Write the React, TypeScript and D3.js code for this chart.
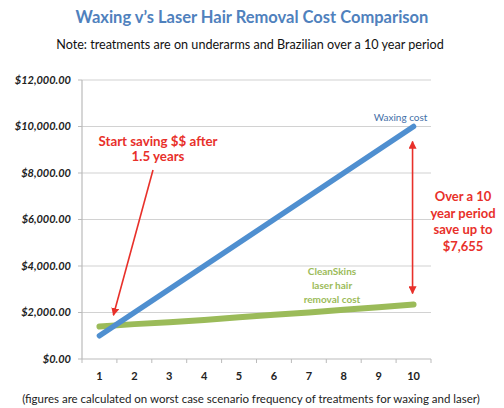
import * as d3 from "d3";

const years = [1, 2, 3, 4, 5, 6, 7, 8, 9, 10];
const waxingCost = [1000, 2000, 3000, 4000, 5000, 6000, 7000, 8000, 9000, 10000];
const laserCost = [1400, 1500, 1580, 1680, 1800, 1900, 2000, 2120, 2230, 2345];
const yTicks = [0, 2000, 4000, 6000, 8000, 10000, 12000];

const W = 504;
const H = 408;
const margin = { top: 80, right: 73, bottom: 49, left: 82 };
const font = "Lato, 'Open Sans', sans-serif";
const red = "#e8302a";

export default function App() {
  const x = d3
    .scaleBand<number>()
    .domain(years)
    .range([margin.left, W - margin.right])
    .padding(0);
  const y = d3.scaleLinear().domain([0, 12000]).range([H - margin.bottom, margin.top]);
  const cx = (d: number) => (x(d) ?? 0) + x.bandwidth() / 2;
  const fmt = d3.format("$,.2f");

  const line = d3
    .line<number>()
    .x((_, i) => cx(years[i]))
    .y((d) => y(d));

  const x0 = margin.left;
  const x1 = W - margin.right;
  const yBase = y(0);

  const boundaries = [...years.map((d) => x(d) ?? 0), x1];

  // arrow from callout to the crossing point
  const crossX = cx(1) + x.bandwidth() * 0.4;
  const crossY = y(1880);
  const startX = 153;
  const startY = 170;

  const arrowX = cx(10) - 1;

  return (
    <svg
      width={W}
      height={H}
      style={{ position: "absolute", left: 0, top: 0, background: "#fff" }}
      fontFamily={font}
    >
      <defs>
        <marker id="ah" viewBox="0 0 10 10" refX="9" refY="5" markerWidth="5" markerHeight="5" orient="auto-start-reverse">
          <path d="M0,0 L10,5 L0,10 z" fill={red} />
        </marker>
      </defs>

      <text x={252} y={23} textAnchor="middle" fontSize={16.5} fontWeight={700} fill="#4f81bd">
        Waxing v’s Laser Hair Removal Cost Comparison
      </text>
      <text x={250} y={49} textAnchor="middle" fontSize={12.6} fill="#111">
        Note: treatments are on underarms and Brazilian over a 10 year period
      </text>

      {/* grid */}
      {yTicks.map((t) => (
        <g key={t}>
          {t > 0 && <line x1={x0} x2={x1} y1={y(t)} y2={y(t)} stroke="#d2d2d2" strokeWidth={1.2} />}
          <line x1={x0 - 4} x2={x0} y1={y(t)} y2={y(t)} stroke="#bbb" strokeWidth={1} />
          <text
            x={x0 - 11}
            y={y(t)}
            dy="0.35em"
            textAnchor="end"
            fontSize={11}
            fontWeight={700}
            fontStyle="italic"
            fill="#222"
          >
            {fmt(t)}
          </text>
        </g>
      ))}
      <line x1={x0} x2={x0} y1={y(12000)} y2={yBase} stroke="#bbb" strokeWidth={1.2} />
      <line x1={x0} x2={x1} y1={yBase} y2={yBase} stroke="#bbb" strokeWidth={1.2} />
      {boundaries.map((b, i) => (
        <line key={i} x1={b} x2={b} y1={yBase} y2={yBase + 4} stroke="#bbb" strokeWidth={1} />
      ))}
      {years.map((d) => (
        <text key={d} x={cx(d)} y={yBase + 21} textAnchor="middle" fontSize={11} fontWeight={700} fill="#222">
          {d}
        </text>
      ))}

      {/* series */}
      <path d={line(laserCost) ?? ""} fill="none" stroke="#9bbb59" strokeWidth={6} strokeLinecap="round" />
      <path d={line(waxingCost) ?? ""} fill="none" stroke="#4f8fd0" strokeWidth={5.5} strokeLinecap="round" />

      <text x={cx(10) - 13} y={y(10000) - 6} textAnchor="middle" fontSize={10} fill="#4470a8">
        Waxing cost
      </text>
      <g fontSize={10} fontWeight={700} fill="#9bbb59" textAnchor="middle">
        <text x={332} y={275}>CleanSkins</text>
        <text x={332} y={289}>laser hair</text>
        <text x={332} y={303}>removal cost</text>
      </g>

      {/* annotations */}
      <g fontSize={13.3} fontWeight={700} fill={red} textAnchor="middle">
        <text x={158} y={146}>Start saving $$ after</text>
        <text x={158} y={161}>1.5 years</text>
      </g>
      <line x1={startX} y1={startY} x2={crossX} y2={crossY} stroke={red} strokeWidth={1.6} markerEnd="url(#ah)" />

      <line
        x1={arrowX}
        x2={arrowX}
        y1={y(10000) + 15}
        y2={y(laserCost[9]) - 11}
        stroke={red}
        strokeWidth={1.6}
        markerStart="url(#ah)"
        markerEnd="url(#ah)"
      />
      <g fontSize={13} fontWeight={700} fill={red} textAnchor="middle">
        <text x={463} y={201}>Over a 10</text>
        <text x={463} y={218}>year period</text>
        <text x={463} y={234}>save up to</text>
        <text x={463} y={251}>$7,655</text>
      </g>

      <text x={251} y={403} textAnchor="middle" fontSize={11.5} fill="#222">
        (figures are calculated on worst case scenario frequency of treatments for waxing and laser)
      </text>
    </svg>
  );
}
